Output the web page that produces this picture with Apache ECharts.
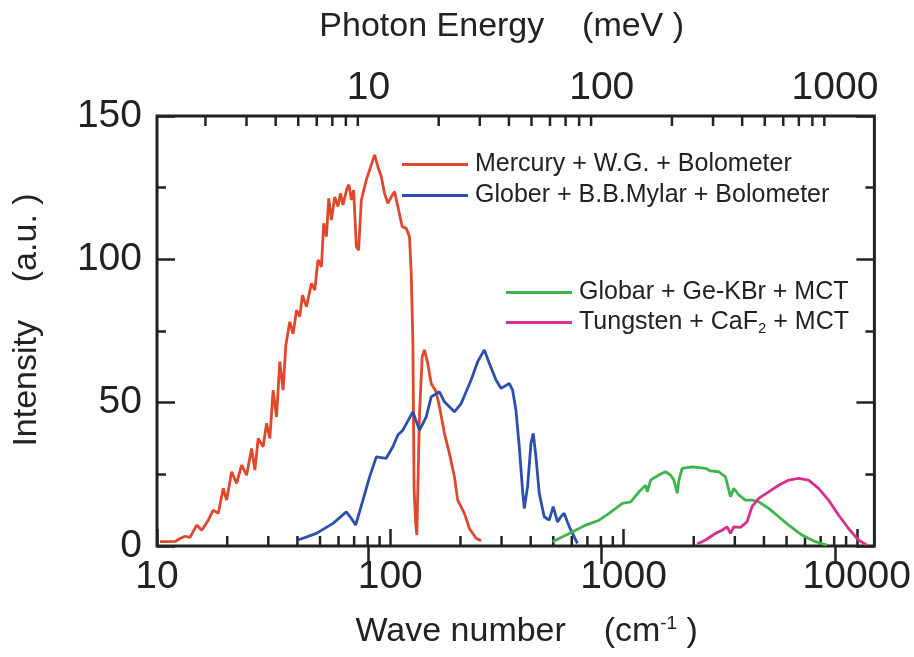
<!DOCTYPE html>
<html>
<head>
<meta charset="utf-8">
<script src="https://cdn.jsdelivr.net/npm/echarts@6/dist/echarts.min.js"></script>
<style>
html, body { margin: 0; padding: 0; background: #fff; }
#chart { width: 914px; height: 657px; }
</style>
</head>
<body>
<div id="chart"></div>
<script>
var FONT = "'Liberation Sans', Arial, Helvetica, sans-serif";
var INK = '#222';
var CM_PER_MEV = 8.0655;   // 1 meV = 8.0655 cm^-1
var waveMin = 10, waveMax = 11900;

// Mercury + W.G. + Bolometer
var mercuryWave = [10.3, 11.05, 11.95, 12.56, 13.19, 13.85, 14.8, 15.55, 16.59, 17.43, 18.31, 19.23, 19.89,
    20.89, 21.95, 23.05, 24.22, 25.44, 26.28, 27.15, 28.52, 29.49, 30.46, 31.47, 32.54, 33.61, 34.72, 35.66,
    37.1, 38.32, 39.63, 40.94, 42.04, 43.72, 45.93, 47.45, 49.01, 50.69, 51.85, 53.25, 54.47, 55.93, 57.79,
    59.7, 61.12, 62.71, 65.23, 66.52, 68.12, 69.66, 71.55, 73.18, 75.16, 78.94, 81.56, 85.67, 88.51, 91.52,
    94.54, 97.66, 101, 104.3, 107.8, 112.5, 117.1, 120.9, 123, 125, 126.5, 128.5, 130, 133.5, 137.1, 140.2,
    144.8, 149.8, 157.3, 162.5, 170.7, 179.3, 188.4, 194.6, 207.9, 218.4, 233.3, 245.1];
var mercuryInt = [1.5, 1.5, 1.6, 2.6, 3.4, 3.0, 7.3, 5.5, 9.0, 12.5, 11.4, 20.1, 16.0,
    25.9, 21.8, 28.2, 24.7, 34.0, 26.5, 37.5, 34.6, 42.8, 37.5, 54.4, 45.0, 64.3, 54.4, 70,
    78.2, 74, 82.3, 80, 87.5, 83.5, 91.6, 89.3, 99.8, 97.4, 112.6, 107.9, 121.3, 113.7, 121.8,
    118.4, 123, 119, 124.8, 126, 120.7, 124.2, 104.4, 103.2, 120.7, 127.7, 131.2, 136.4, 132.3, 128.8,
    123, 119.5, 121.8, 123.6, 118.4, 111.4, 110.8, 107.9, 95.1, 71.8, 20, 8, 3.8, 46.3, 66, 68.4,
    63.7, 56.7, 53.8, 48.6, 39.3, 32.3, 24.1, 16, 11.4, 6.1, 2.7, 1.8];

// Glober + B.B.Mylar + Bolometer
var globerWave = [40.26, 48.25, 56.83, 64.84, 68.12, 71.06, 76.35, 81.56, 87.12, 96.13, 102.6, 107.8, 113.2,
    125, 133.5, 142.6, 149.8, 162.5, 170.7, 188.4, 201.3, 222.1, 237, 253.2, 265.9, 284, 298.4, 323.8,
    334.5, 345.8, 357.3, 369.1, 375.4, 387.8, 401.1, 410.3, 421.3, 435.2, 457.1, 480.2, 499.5, 521.2,
    538.9, 556.7, 574.8, 594.5, 634.5];
var globerInt = [2.1, 4.4, 7.9, 11.9, 9.6, 7.3, 16, 24.1, 31.1, 30.6, 34.6, 38.7, 40.4,
    46.8, 40.4, 45, 52, 53.8, 50.3, 46.8, 49.7, 57.9, 64.3, 68.4, 63.7, 57.9, 55, 56.7,
    54.4, 47.4, 34.6, 19.5, 13.1, 20.7, 35.8, 39.3, 31.1, 18.4, 10.2, 9, 13.7, 8.4,
    10.2, 11.4, 8.4, 5.5, 0.9];

// Globar + Ge-KBr + MCT
var globarWave = [496.1, 584.8, 689, 785.6, 867, 988.3, 1073.6, 1165, 1245, 1264, 1307, 1373, 1443, 1515,
    1592, 1644, 1699, 1728, 1784, 1970, 2247, 2360, 2562, 2736, 2874, 2970, 3119, 3332, 3555, 3798,
    4193, 4626, 5106, 5818, 6640, 7444];
var globarInt = [1.5, 4.4, 7.3, 9, 11.4, 14.9, 15.4, 18.9, 21.2, 18.9, 23, 24.1, 25.1, 25.9,
    24.7, 23, 18.4, 23, 27.1, 27.6, 27.1, 26.2, 25.9, 24.1, 17.2, 20.1, 17.8, 16, 16, 15.4,
    13.1, 10.2, 7.3, 3.8, 1.5, 0.3];

// Tungsten + CaF2 + MCT
var tungstenWave = [2069, 2247, 2480, 2646, 2780, 2874, 2970, 3172, 3384, 3555, 3798, 4193, 4626, 5106,
    5632, 6215, 6859, 7568, 8351, 9215, 10170, 11035];
var tungstenInt = [0.7, 2.1, 4.4, 5.5, 6.7, 4.4, 6.7, 6.5, 8.4, 13.7, 16.6, 18.9, 21.2, 23,
    23.6, 23, 20.1, 16, 10.8, 6.1, 2.1, 0.3];

var seriesNames = ['Mercury + W.G. + Bolometer', 'Glober + B.B.Mylar + Bolometer',
    'Globar + Ge-KBr + MCT', 'Tungsten + CaF2 + MCT'];
var seriesColors = ['#e0482c', '#2b4fae', '#3db54a', '#d92f8c'];

// minor ticks of the two log axes
var waveMinorTicks = [20, 30, 40, 50, 60, 70, 80, 90, 200, 300, 400, 500, 600, 700, 800, 900,
    2000, 3000, 4000, 5000, 6000, 7000, 8000, 9000];
var energyMinorTicks = [2, 3, 4, 5, 6, 7, 8, 9, 20, 30, 40, 50, 60, 70, 80, 90,
    200, 300, 400, 500, 600, 700, 800, 900];

function zip(xs, ys) {
    return xs.map(function (x, i) { return [x, ys[i]]; });
}

function powerLabel(v) {
    var l = Math.log10(v);
    return Math.abs(l - Math.round(l)) < 1e-6 ? String(Math.round(v)) : '';
}

function minorTickSeries(values, xAxisIndex, atTop) {
    return {
        type: 'custom',
        xAxisIndex: xAxisIndex,
        yAxisIndex: 0,
        silent: true,
        z: 1,
        clip: false,
        data: values.map(function (v) { return [v, atTop ? 150 : 0]; }),
        renderItem: function (params, api) {
            var p = api.coord([api.value(0), api.value(1)]);
            var len = 10;
            return {
                type: 'line',
                shape: { x1: p[0], y1: p[1], x2: p[0], y2: atTop ? p[1] + len : p[1] - len },
                style: { stroke: INK, lineWidth: 2.5 }
            };
        }
    };
}

var chart = echarts.init(document.getElementById('chart'));

var lineSeries = [
    zip(mercuryWave, mercuryInt),
    zip(globerWave, globerInt),
    zip(globarWave, globarInt),
    zip(tungstenWave, tungstenInt)
].map(function (d, i) {
    return {
        name: seriesNames[i],
        type: 'line',
        xAxisIndex: 0,
        yAxisIndex: 0,
        data: d,
        symbol: 'none',
        z: 3,
        color: seriesColors[i],
        lineStyle: { width: 2.8, color: seriesColors[i] }
    };
});

var legendBase = {
    orient: 'vertical',
    icon: 'rect',
    padding: 0,
    itemWidth: 66,
    itemHeight: 3,
    selectedMode: false,
    textStyle: {
        fontFamily: FONT, fontSize: 25, color: INK, lineHeight: 25, padding: [0, 0, 0, 2],
        rich: { sub: { fontFamily: FONT, fontSize: 15, color: INK, padding: [13, 0, 0, 0] } }
    },
    formatter: function (name) { return name.replace('CaF2', 'CaF{sub|2}'); }
};

var tickLine = { lineStyle: { color: INK, width: 2.5 } };

var option = {
    backgroundColor: '#fff',
    animation: false,
    grid: {
        left: 157, right: 38, top: 116, bottom: 111,
        show: true, borderColor: INK, borderWidth: 3, backgroundColor: 'transparent'
    },
    legend: [
        Object.assign({}, legendBase, { data: seriesNames.slice(0, 2), left: 402, top: 152, itemGap: 6 }),
        Object.assign({}, legendBase, { data: seriesNames.slice(2), left: 506, top: 280, itemGap: 5 })
    ],
    xAxis: [
        {
            type: 'log', position: 'bottom', min: waveMin, max: waveMax,
            axisLine: { show: false },
            axisTick: Object.assign({ show: true, inside: true, length: 17 }, tickLine),
            axisLabel: { fontFamily: FONT, fontSize: 39, color: INK, margin: 12, formatter: powerLabel,
                showMinLabel: true, showMaxLabel: false },
            splitLine: { show: false },
            name: 'Wave number    (cm{sup|-1} )',
            nameLocation: 'middle', nameGap: 68,
            nameTextStyle: { fontFamily: FONT, fontSize: 34, color: INK, padding: [0, 0, 0, 22],
                rich: { sup: { fontFamily: FONT, fontSize: 19, color: INK, verticalAlign: 'top', padding: [0, 0, 16, 0] } } }
        },
        {
            type: 'log', position: 'top', min: waveMin / CM_PER_MEV, max: waveMax / CM_PER_MEV,
            axisLine: { show: false },
            axisTick: Object.assign({ show: true, inside: true, length: 18 }, tickLine),
            axisLabel: { fontFamily: FONT, fontSize: 39, color: INK, margin: 8, formatter: powerLabel,
                showMinLabel: false, showMaxLabel: false },
            splitLine: { show: false },
            name: 'Photon Energy    (meV )',
            nameLocation: 'middle', nameGap: 72,
            nameTextStyle: { fontFamily: FONT, fontSize: 34, color: INK, padding: [0, 28, 0, 0] }
        }
    ],
    yAxis: [
        {
            type: 'value', position: 'left', min: 0, max: 150, interval: 50,
            axisLine: { show: false },
            axisTick: Object.assign({ show: true, inside: true, length: 18 }, tickLine),
            minorTick: Object.assign({ show: true, splitNumber: 2, length: 9 }, tickLine),
            axisLabel: { fontFamily: FONT, fontSize: 39, color: INK, margin: 15 },
            splitLine: { show: false },
            name: 'Intensity    (a.u. )',
            nameLocation: 'middle', nameGap: 113,
            nameTextStyle: { fontFamily: FONT, fontSize: 34, color: INK, padding: [0, 0, 0, 22] }
        },
        {
            type: 'value', position: 'right', min: 0, max: 150, interval: 50,
            axisLine: { show: false },
            axisTick: Object.assign({ show: true, inside: true, length: 18 }, tickLine),
            minorTick: Object.assign({ show: true, splitNumber: 2, length: 9 }, tickLine),
            axisLabel: { show: false },
            splitLine: { show: false }
        }
    ],
    series: lineSeries.concat([
        minorTickSeries(waveMinorTicks, 0, false),
        minorTickSeries(energyMinorTicks, 1, true)
    ])
};

chart.setOption(option);
</script>
</body>
</html>
